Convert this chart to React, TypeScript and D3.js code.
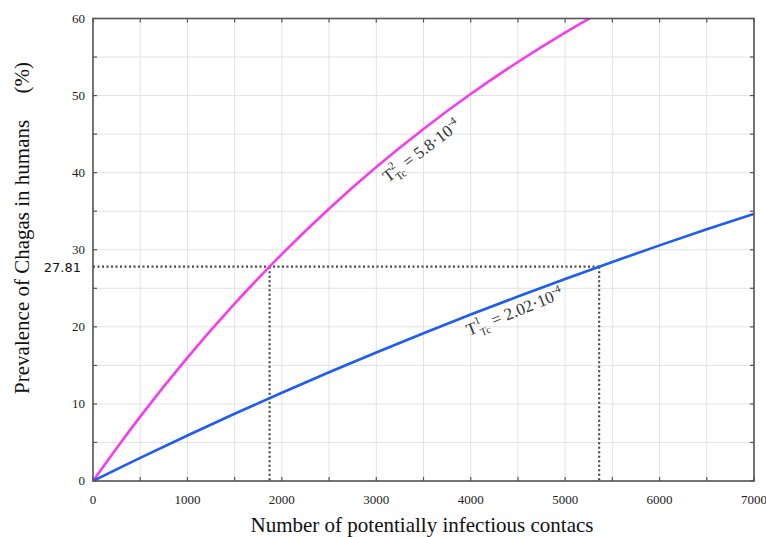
import React from 'react';
import * as d3 from 'd3';

// contacts (x) and prevalence (%)
const contacts = [0, 250, 500, 1000, 1500, 2000, 2500, 3000, 3500, 4000, 4500, 5000, 5500, 6000, 6500, 7000];
const prevHigh = [0, 4.26, 8.35, 16.0, 23.0, 29.43, 35.32, 40.72, 45.67, 50.2, 54.36, 58.17, 61.66, 64.8, 67.8, 70.5];
const prevLow = [0, 1.51, 2.99, 5.9, 8.72, 11.45, 14.1, 16.67, 19.17, 21.59, 23.94, 26.21, 28.42, 30.57, 32.65, 34.66];

const xTicks = [0, 1000, 2000, 3000, 4000, 5000, 6000, 7000];
const yTicks = [0, 10, 20, 30, 40, 50, 60];
const markLevel = 27.81;
const markContacts = [1870, 5360];

const W = 766;
const H = 537;
const M = { left: 93, right: 12, top: 18.5, bottom: 56 };

const PINK = '#f53cf0';
const BLUE = '#1f5cf2';
const FRAME = '#555';
const serif = '"Liberation Serif", "DejaVu Serif", serif';

export default function App() {
  const x = d3.scaleLinear().domain([0, 7000]).range([M.left, W - M.right]);
  const y = d3.scaleLinear().domain([0, 60]).range([H - M.bottom, M.top]);

  const line = d3
    .line<number>()
    .x((_, i) => x(contacts[i]))
    .y((d) => y(d))
    .curve(d3.curveMonotoneX);

  const xGrid = d3.range(0, 7001, 500);
  const yGrid = d3.range(0, 61, 5);
  const x0 = x(0);
  const x1 = x(7000);
  const y0 = y(0);
  const y1 = y(60);

  return (
    <svg width={W} height={H} style={{ position: 'absolute', left: 0, top: 0, background: '#fff' }}>
      <defs>
        <clipPath id="plot">
          <rect x={x0} y={y1} width={x1 - x0} height={y0 - y1} />
        </clipPath>
      </defs>

      {/* grid */}
      {xGrid.map((v) => (
        <line key={'gx' + v} x1={x(v)} x2={x(v)} y1={y1} y2={y0} stroke="#e2e2e2" strokeWidth={1} />
      ))}
      {yGrid.map((v) => (
        <line key={'gy' + v} x1={x0} x2={x1} y1={y(v)} y2={y(v)} stroke="#e2e2e2" strokeWidth={1} />
      ))}

      {/* inward ticks */}
      {xGrid.map((v) => (
        <g key={'tx' + v} stroke={FRAME} strokeWidth={1.2}>
          <line x1={x(v)} x2={x(v)} y1={y0} y2={y0 - 4} />
          <line x1={x(v)} x2={x(v)} y1={y1} y2={y1 + 4} />
        </g>
      ))}
      {yGrid.map((v) => (
        <g key={'ty' + v} stroke={FRAME} strokeWidth={1.2}>
          <line x1={x0} x2={x0 + 4} y1={y(v)} y2={y(v)} />
          <line x1={x1} x2={x1 - 4} y1={y(v)} y2={y(v)} />
        </g>
      ))}

      {/* dotted markers */}
      <g stroke="#4a4a4a" strokeWidth={2.2} strokeDasharray="2 2.5" fill="none">
        <line x1={x0} x2={x(markContacts[1])} y1={y(markLevel)} y2={y(markLevel)} />
        {markContacts.map((c) => (
          <line key={'m' + c} x1={x(c)} x2={x(c)} y1={y(markLevel)} y2={y0} />
        ))}
      </g>

      {/* curves */}
      <g clipPath="url(#plot)" fill="none" strokeWidth={2.6} strokeLinecap="round">
        <path d={line(prevHigh) || ''} stroke={PINK} />
        <path d={line(prevLow) || ''} stroke={BLUE} />
      </g>

      {/* frame */}
      <rect x={x0} y={y1} width={x1 - x0} height={y0 - y1} fill="none" stroke={FRAME} strokeWidth={1.6} />

      {/* tick labels */}
      {xTicks.map((v) => (
        <text key={'lx' + v} x={x(v)} y={y0 + 23} textAnchor="middle" fontFamily={serif} fontSize={13} fill="#222">
          {v}
        </text>
      ))}
      {yTicks.map((v) => (
        <text key={'ly' + v} x={x0 - 8} y={y(v) + 4} textAnchor="end" fontFamily={serif} fontSize={13} fill="#222">
          {v}
        </text>
      ))}
      <text x={x0 - 12} y={y(markLevel) + 5} textAnchor="end" fontFamily='"DejaVu Sans", sans-serif' fontSize={13} fill="#111">
        {markLevel}
      </text>

      {/* curve labels */}
      <text transform="translate(388,183) rotate(-37)" fontFamily={serif} fontSize={17} fill="#333">
        <tspan>T</tspan>
        <tspan fontSize={11} dy={-8}>2</tspan>
        <tspan fontSize={11} dx={-6} dy={13}>Tc</tspan>
        <tspan dy={-5}> = 5.8·10</tspan>
        <tspan fontSize={11} dy={-7}>-4</tspan>
      </text>
      <text transform="translate(469,336) rotate(-22)" fontFamily={serif} fontSize={17} fill="#333">
        <tspan>T</tspan>
        <tspan fontSize={11} dy={-8}>1</tspan>
        <tspan fontSize={11} dx={-4} dy={13}>Tc</tspan>
        <tspan dy={-5}> = 2.02·10</tspan>
        <tspan fontSize={11} dy={-7}>-4</tspan>
      </text>

      {/* axis titles */}
      <text x={422} y={532} textAnchor="middle" fontFamily={serif} fontSize={21} fill="#111">
        Number of potentially infectious contacs
      </text>
      <text
        transform="translate(29,228) rotate(-90)"
        textAnchor="middle"
        fontFamily={serif}
        fontSize={21}
        fill="#111"
        style={{ whiteSpace: 'pre' }}
      >
        {'Prevalence of Chagas in humans     (%)'}
      </text>
    </svg>
  );
}
